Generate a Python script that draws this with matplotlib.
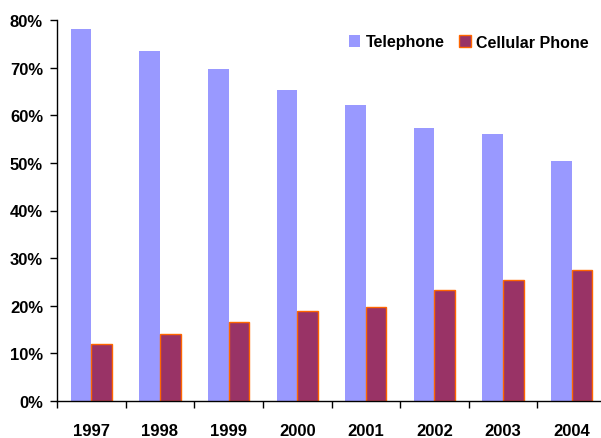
import matplotlib
matplotlib.use("Agg")
import matplotlib.pyplot as plt
import numpy as np
from matplotlib.ticker import FixedLocator, FuncFormatter

years = ["1997", "1998", "1999", "2000", "2001", "2002", "2003", "2004"]
telephone = [78.1, 73.5, 69.7, 65.3, 62.2, 57.3, 56.1, 50.4]
cellular = [12.0, 14.1, 16.5, 18.8, 19.7, 23.3, 25.5, 27.5]
series_names = ["Telephone", "Cellular Phone"]

plt.rcParams['font.family'] = ['Liberation Sans', 'DejaVu Sans']

fig = plt.figure(figsize=(6.01, 4.39), dpi=100)
ax = fig.add_axes([57/601, 37/439, 549/601, 381/439])

x = np.arange(len(years))
w = 0.3
ax.bar(x - 0.15, telephone, width=w, color="#9999FF", label=series_names[0], zorder=2)
ax.bar(x + 0.15, cellular, width=w, color="#993366", edgecolor="#FF6600", linewidth=1.0,
       label=series_names[1], zorder=2)

ax.set_xlim(-0.5, len(years) - 0.5)
ax.set_ylim(0, 80)

ax.set_yticks(np.arange(0, 81, 10))
ax.yaxis.set_major_formatter(FuncFormatter(lambda v, p: f"{int(v)}%"))
ax.set_xticks(x)
ax.set_xticklabels(years)
ax.xaxis.set_minor_locator(FixedLocator(np.arange(-0.5, len(years), 1.0)))

ax.tick_params(axis='x', which='major', length=0, pad=16, labelsize=12)
ax.tick_params(axis='x', which='minor', length=5, width=1, direction='out')
ax.tick_params(axis='y', which='major', length=5, width=1, direction='out', pad=5, labelsize=12)
for lab in ax.get_xticklabels() + ax.get_yticklabels():
    lab.set_fontweight('bold')

for s in ['top', 'right']:
    ax.spines[s].set_visible(False)
for s in ['left', 'bottom']:
    ax.spines[s].set_linewidth(1)
    ax.spines[s].set_color('black')

leg = ax.legend(loc='center right', bbox_to_anchor=(589/601, (439 - 43)/439), bbox_transform=fig.transFigure,
                ncol=2, frameon=False, prop={'weight': 'bold', 'size': 11.5},
                borderpad=0, borderaxespad=0,
                handlelength=0.72, handleheight=0.8, handletextpad=0.35, columnspacing=0.9)

fig.savefig("out.png", dpi=100)
